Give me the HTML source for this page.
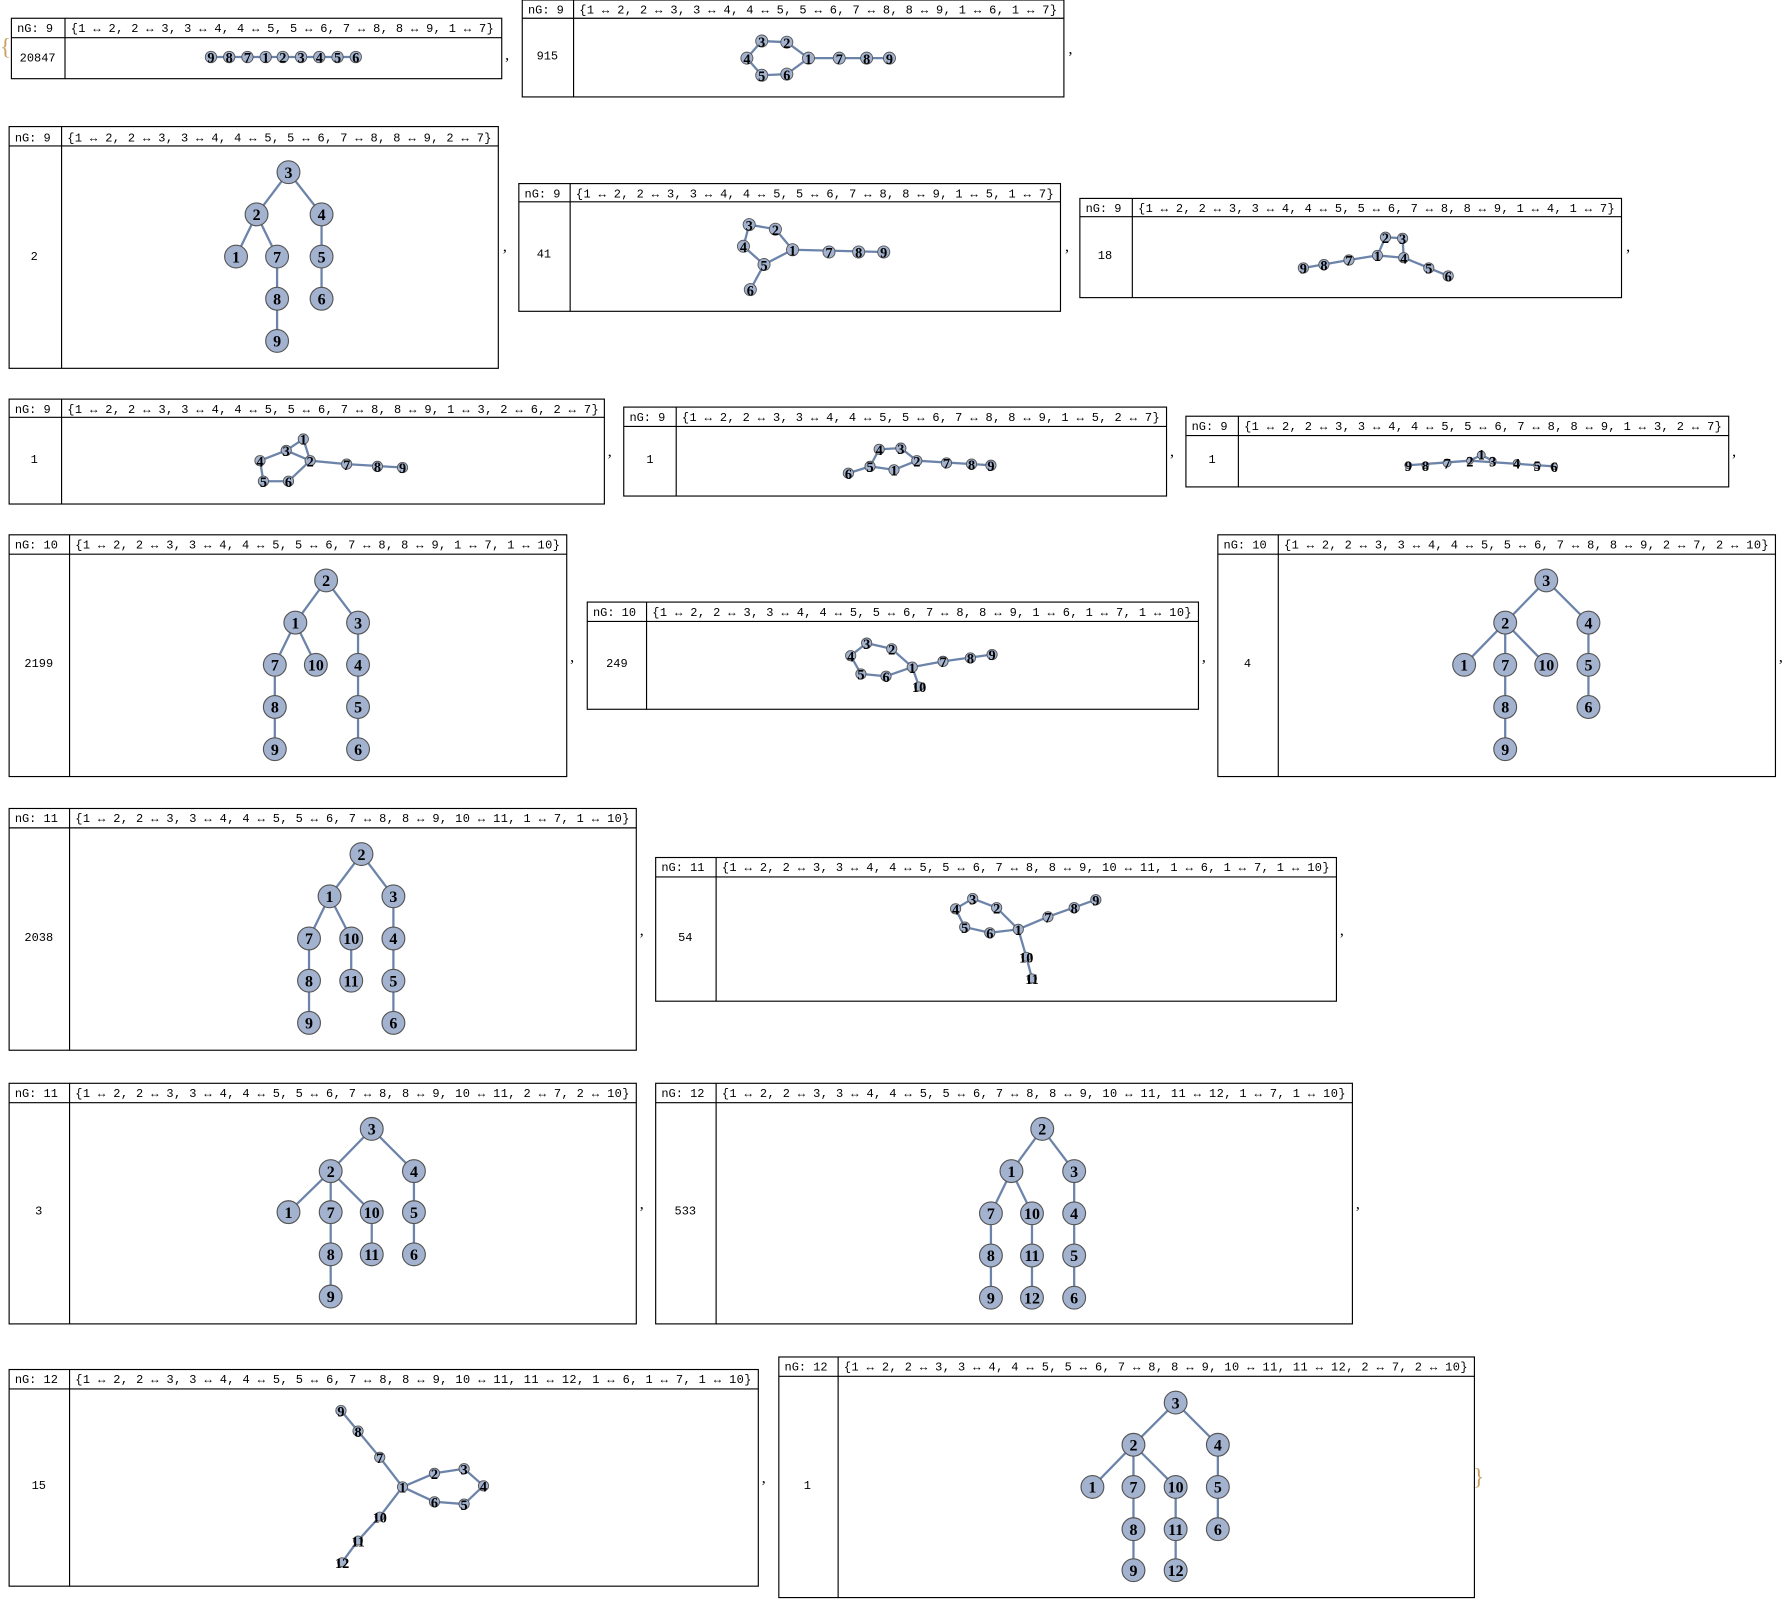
<!DOCTYPE html>
<html><head><meta charset="utf-8"><style>
html,body{margin:0;padding:0;background:#fff;}
svg{display:block}
.b{fill:none;stroke:#000;stroke-width:1}
.h{font-family:"Liberation Mono",monospace;font-size:10.5px;fill:#000}
.c{font-family:"Liberation Mono",monospace;font-size:10.5px;fill:#000;text-anchor:middle}
.e line{stroke:#6d84aa;stroke-width:2}
.N circle{fill:#a3b3cf;stroke:#555;stroke-width:1}
.N text{font-family:"Liberation Serif",serif;font-weight:bold;font-size:14px;text-anchor:middle;fill:#000}
.S circle{fill:#a3b3cf;stroke:#555;stroke-width:0.8}
.S text{font-family:"Liberation Serif",serif;font-weight:bold;font-size:12.5px;text-anchor:middle;fill:#000}
.p{font-family:"Liberation Serif",serif;font-size:14px;fill:#000}
.br{font-family:"Liberation Serif",serif;font-size:20px;fill:#c8a060}
</style></head><body>
<svg width="1788" height="1601" viewBox="0 0 1568 1404" xmlns="http://www.w3.org/2000/svg">
<text class="br" x="0" y="48">{</text>
<text class="br" x="1292" y="1302">}</text>

<!-- P1 -->
<rect class="b" x="10" y="16" width="430" height="53"/><line class="b" x1="10" y1="33" x2="440" y2="33"/><line class="b" x1="57" y1="16" x2="57" y2="69"/>
<text class="h" x="15" y="28">nG: 9</text><text class="h" x="62" y="28" textLength="371" lengthAdjust="spacing">{1 ↔ 2, 2 ↔ 3, 3 ↔ 4, 4 ↔ 5, 5 ↔ 6, 7 ↔ 8, 8 ↔ 9, 1 ↔ 7}</text>
<text class="c" x="33" y="54">20847</text>
<g class="e"><line x1="185" y1="50" x2="312" y2="50"/></g>
<g class="S"><circle cx="185" cy="50" r="5"/><text x="185" y="55">9</text><circle cx="201" cy="50" r="5"/><text x="201" y="55">8</text><circle cx="217" cy="50" r="5"/><text x="217" y="55">7</text><circle cx="233" cy="50" r="5"/><text x="233" y="55">1</text><circle cx="248" cy="50" r="5"/><text x="248" y="55">2</text><circle cx="264" cy="50" r="5"/><text x="264" y="55">3</text><circle cx="280" cy="50" r="5"/><text x="280" y="55">4</text><circle cx="296" cy="50" r="5"/><text x="296" y="55">5</text><circle cx="312" cy="50" r="5"/><text x="312" y="55">6</text></g>
<text class="p" x="443" y="52">,</text>

<!-- P2 -->
<rect class="b" x="458" y="0" width="475" height="85"/><line class="b" x1="458" y1="16" x2="933" y2="16"/><line class="b" x1="503" y1="0" x2="503" y2="85"/>
<text class="h" x="463" y="12">nG: 9</text><text class="h" x="508" y="12" textLength="419" lengthAdjust="spacing">{1 ↔ 2, 2 ↔ 3, 3 ↔ 4, 4 ↔ 5, 5 ↔ 6, 7 ↔ 8, 8 ↔ 9, 1 ↔ 6, 1 ↔ 7}</text>
<text class="c" x="480" y="52">915</text>
<g class="e"><line x1="709" y1="51" x2="690" y2="37"/><line x1="690" y1="37" x2="668" y2="36"/><line x1="668" y1="36" x2="655" y2="51"/><line x1="655" y1="51" x2="668" y2="66"/><line x1="668" y1="66" x2="690" y2="65"/><line x1="690" y1="65" x2="709" y2="51"/><line x1="709" y1="51" x2="780" y2="51"/></g>
<g class="S"><circle cx="668" cy="36" r="5.3"/><text x="668" y="41">3</text><circle cx="690" cy="37" r="5.3"/><text x="690" y="42">2</text><circle cx="655" cy="51" r="5.3"/><text x="655" y="56">4</text><circle cx="709" cy="51" r="5.3"/><text x="709" y="56">1</text><circle cx="668" cy="66" r="5.3"/><text x="668" y="71">5</text><circle cx="690" cy="65" r="5.3"/><text x="690" y="70">6</text><circle cx="736" cy="51" r="5.3"/><text x="736" y="56">7</text><circle cx="760" cy="51" r="5.3"/><text x="760" y="56">8</text><circle cx="780" cy="51" r="5.3"/><text x="780" y="56">9</text></g>
<text class="p" x="937" y="47">,</text>

<!-- P3 -->
<rect class="b" x="8" y="111" width="429" height="212"/><line class="b" x1="8" y1="128" x2="437" y2="128"/><line class="b" x1="54" y1="111" x2="54" y2="323"/>
<text class="h" x="13" y="124">nG: 9</text><text class="h" x="59" y="124" textLength="372" lengthAdjust="spacing">{1 ↔ 2, 2 ↔ 3, 3 ↔ 4, 4 ↔ 5, 5 ↔ 6, 7 ↔ 8, 8 ↔ 9, 2 ↔ 7}</text>
<text class="c" x="30" y="228">2</text>
<g class="e"><line x1="253" y1="151" x2="225" y2="188"/><line x1="253" y1="151" x2="282" y2="188"/><line x1="225" y1="188" x2="207" y2="225"/><line x1="225" y1="188" x2="243" y2="225"/><line x1="243" y1="225" x2="243" y2="299"/><line x1="282" y1="188" x2="282" y2="262"/></g>
<g class="N"><circle cx="253" cy="151" r="10"/><text x="253" y="156">3</text><circle cx="225" cy="188" r="10"/><text x="225" y="193">2</text><circle cx="282" cy="188" r="10"/><text x="282" y="193">4</text><circle cx="207" cy="225" r="10"/><text x="207" y="230">1</text><circle cx="243" cy="225" r="10"/><text x="243" y="230">7</text><circle cx="282" cy="225" r="10"/><text x="282" y="230">5</text><circle cx="243" cy="262" r="10"/><text x="243" y="267">8</text><circle cx="282" cy="262" r="10"/><text x="282" y="267">6</text><circle cx="243" cy="299" r="10"/><text x="243" y="304">9</text></g>
<text class="p" x="441" y="220">,</text>

<!-- P4 -->
<rect class="b" x="455" y="161" width="475" height="112"/><line class="b" x1="455" y1="177" x2="930" y2="177"/><line class="b" x1="500" y1="161" x2="500" y2="273"/>
<text class="h" x="460" y="173">nG: 9</text><text class="h" x="505" y="173" textLength="419" lengthAdjust="spacing">{1 ↔ 2, 2 ↔ 3, 3 ↔ 4, 4 ↔ 5, 5 ↔ 6, 7 ↔ 8, 8 ↔ 9, 1 ↔ 5, 1 ↔ 7}</text>
<text class="c" x="477" y="226">41</text>
<g class="e"><line x1="695" y1="219" x2="680" y2="201"/><line x1="680" y1="201" x2="657" y2="197"/><line x1="657" y1="197" x2="652" y2="216"/><line x1="652" y1="216" x2="670" y2="232"/><line x1="670" y1="232" x2="695" y2="219"/><line x1="670" y1="232" x2="658" y2="254"/><line x1="695" y1="219" x2="775" y2="221"/></g>
<g class="S"><circle cx="657" cy="197" r="5.3"/><text x="657" y="202">3</text><circle cx="680" cy="201" r="5.3"/><text x="680" y="206">2</text><circle cx="652" cy="216" r="5.3"/><text x="652" y="221">4</text><circle cx="670" cy="232" r="5.3"/><text x="670" y="237">5</text><circle cx="695" cy="219" r="5.3"/><text x="695" y="224">1</text><circle cx="658" cy="254" r="5.3"/><text x="658" y="259">6</text><circle cx="727" cy="221" r="5.3"/><text x="727" y="226">7</text><circle cx="753" cy="221" r="5.3"/><text x="753" y="226">8</text><circle cx="775" cy="221" r="5.3"/><text x="775" y="226">9</text></g>
<text class="p" x="934" y="220">,</text>

<!-- P5 -->
<rect class="b" x="947" y="174" width="475" height="87"/><line class="b" x1="947" y1="190" x2="1422" y2="190"/><line class="b" x1="993" y1="174" x2="993" y2="261"/>
<text class="h" x="952" y="186">nG: 9</text><text class="h" x="998" y="186" textLength="418" lengthAdjust="spacing">{1 ↔ 2, 2 ↔ 3, 3 ↔ 4, 4 ↔ 5, 5 ↔ 6, 7 ↔ 8, 8 ↔ 9, 1 ↔ 4, 1 ↔ 7}</text>
<text class="c" x="969" y="227">18</text>
<g class="e"><line x1="1208" y1="224" x2="1215" y2="208"/><line x1="1215" y1="208" x2="1230" y2="209"/><line x1="1230" y1="209" x2="1231" y2="226"/><line x1="1231" y1="226" x2="1208" y2="224"/><line x1="1208" y1="224" x2="1183" y2="228"/><line x1="1183" y1="228" x2="1143" y2="235"/><line x1="1231" y1="226" x2="1253" y2="235"/><line x1="1253" y1="235" x2="1270" y2="242"/></g>
<g class="S"><circle cx="1215" cy="208" r="4.5"/><text x="1215" y="213">2</text><circle cx="1230" cy="209" r="4.5"/><text x="1230" y="214">3</text><circle cx="1208" cy="224" r="4.5"/><text x="1208" y="229">1</text><circle cx="1231" cy="226" r="4.5"/><text x="1231" y="231">4</text><circle cx="1183" cy="228" r="4.5"/><text x="1183" y="233">7</text><circle cx="1161" cy="232" r="4.5"/><text x="1161" y="237">8</text><circle cx="1143" cy="235" r="4.5"/><text x="1143" y="240">9</text><circle cx="1253" cy="235" r="4.5"/><text x="1253" y="240">5</text><circle cx="1270" cy="242" r="4.5"/><text x="1270" y="247">6</text></g>
<text class="p" x="1426" y="220">,</text>

<!-- P6 -->
<rect class="b" x="8" y="350" width="522" height="92"/><line class="b" x1="8" y1="366" x2="530" y2="366"/><line class="b" x1="54" y1="350" x2="54" y2="442"/>
<text class="h" x="13" y="362">nG: 9</text><text class="h" x="59" y="362" textLength="466" lengthAdjust="spacing">{1 ↔ 2, 2 ↔ 3, 3 ↔ 4, 4 ↔ 5, 5 ↔ 6, 7 ↔ 8, 8 ↔ 9, 1 ↔ 3, 2 ↔ 6, 2 ↔ 7}</text>
<text class="c" x="30" y="406">1</text>
<g class="e"><line x1="266" y1="385" x2="272" y2="404"/><line x1="266" y1="385" x2="251" y2="395"/><line x1="272" y1="404" x2="251" y2="395"/><line x1="251" y1="395" x2="228" y2="404"/><line x1="228" y1="404" x2="231" y2="422"/><line x1="231" y1="422" x2="253" y2="422"/><line x1="253" y1="422" x2="272" y2="404"/><line x1="272" y1="404" x2="304" y2="407"/><line x1="304" y1="407" x2="353" y2="410"/></g>
<g class="S"><circle cx="266" cy="385" r="4.5"/><text x="266" y="390">1</text><circle cx="251" cy="395" r="4.5"/><text x="251" y="400">3</text><circle cx="272" cy="404" r="4.5"/><text x="272" y="409">2</text><circle cx="228" cy="404" r="4.5"/><text x="228" y="409">4</text><circle cx="231" cy="422" r="4.5"/><text x="231" y="427">5</text><circle cx="253" cy="422" r="4.5"/><text x="253" y="427">6</text><circle cx="304" cy="407" r="4.5"/><text x="304" y="412">7</text><circle cx="331" cy="409" r="4.5"/><text x="331" y="414">8</text><circle cx="353" cy="410" r="4.5"/><text x="353" y="415">9</text></g>
<text class="p" x="533" y="400">,</text>

<!-- P7 -->
<rect class="b" x="547" y="357" width="476" height="78"/><line class="b" x1="547" y1="374" x2="1023" y2="374"/><line class="b" x1="593" y1="357" x2="593" y2="435"/>
<text class="h" x="552" y="369">nG: 9</text><text class="h" x="598" y="369" textLength="419" lengthAdjust="spacing">{1 ↔ 2, 2 ↔ 3, 3 ↔ 4, 4 ↔ 5, 5 ↔ 6, 7 ↔ 8, 8 ↔ 9, 1 ↔ 5, 2 ↔ 7}</text>
<text class="c" x="570" y="406">1</text>
<g class="e"><line x1="784" y1="412" x2="804" y2="404"/><line x1="804" y1="404" x2="790" y2="393"/><line x1="790" y1="393" x2="771" y2="394"/><line x1="771" y1="394" x2="763" y2="409"/><line x1="763" y1="409" x2="784" y2="412"/><line x1="763" y1="409" x2="744" y2="415"/><line x1="804" y1="404" x2="869" y2="408"/></g>
<g class="S"><circle cx="771" cy="394" r="4.5"/><text x="771" y="399">4</text><circle cx="790" cy="393" r="4.5"/><text x="790" y="398">3</text><circle cx="804" cy="404" r="4.5"/><text x="804" y="409">2</text><circle cx="763" cy="409" r="4.5"/><text x="763" y="414">5</text><circle cx="784" cy="412" r="4.5"/><text x="784" y="417">1</text><circle cx="744" cy="415" r="4.5"/><text x="744" y="420">6</text><circle cx="830" cy="406" r="4.5"/><text x="830" y="411">7</text><circle cx="852" cy="407" r="4.5"/><text x="852" y="412">8</text><circle cx="869" cy="408" r="4.5"/><text x="869" y="413">9</text></g>
<text class="p" x="1026" y="400">,</text>

<!-- P8 -->
<rect class="b" x="1040" y="365" width="476" height="62"/><line class="b" x1="1040" y1="382" x2="1516" y2="382"/><line class="b" x1="1086" y1="365" x2="1086" y2="427"/>
<text class="h" x="1045" y="377">nG: 9</text><text class="h" x="1091" y="377" textLength="419" lengthAdjust="spacing">{1 ↔ 2, 2 ↔ 3, 3 ↔ 4, 4 ↔ 5, 5 ↔ 6, 7 ↔ 8, 8 ↔ 9, 1 ↔ 3, 2 ↔ 7}</text>
<text class="c" x="1063" y="406">1</text>
<g class="e"><line x1="1235" y1="408" x2="1289" y2="404"/><line x1="1289" y1="404" x2="1299" y2="399"/><line x1="1299" y1="399" x2="1309" y2="404"/><line x1="1289" y1="404" x2="1363" y2="409"/></g>
<g class="S"><circle cx="1235" cy="408" r="3"/><text x="1235" y="413">9</text><circle cx="1250" cy="408" r="3"/><text x="1250" y="413">8</text><circle cx="1269" cy="406" r="3.5"/><text x="1269" y="411">7</text><circle cx="1289" cy="404" r="3"/><text x="1289" y="409">2</text><circle cx="1299" cy="399" r="3.5"/><text x="1299" y="403">1</text><circle cx="1309" cy="404" r="3"/><text x="1309" y="409">3</text><circle cx="1330" cy="406" r="3"/><text x="1330" y="411">4</text><circle cx="1348" cy="408" r="3"/><text x="1348" y="413">5</text><circle cx="1363" cy="409" r="3"/><text x="1363" y="414">6</text></g>
<text class="p" x="1519" y="400">,</text>

<!-- P9 -->
<rect class="b" x="8" y="469" width="489" height="212"/><line class="b" x1="8" y1="486" x2="497" y2="486"/><line class="b" x1="61" y1="469" x2="61" y2="681"/>
<text class="h" x="13" y="481">nG: 10</text><text class="h" x="66" y="481" textLength="425" lengthAdjust="spacing">{1 ↔ 2, 2 ↔ 3, 3 ↔ 4, 4 ↔ 5, 5 ↔ 6, 7 ↔ 8, 8 ↔ 9, 1 ↔ 7, 1 ↔ 10}</text>
<text class="c" x="34" y="585">2199</text>
<g class="e"><line x1="286" y1="509" x2="259" y2="546"/><line x1="286" y1="509" x2="314" y2="546"/><line x1="259" y1="546" x2="241" y2="583"/><line x1="259" y1="546" x2="277" y2="583"/><line x1="241" y1="583" x2="241" y2="657"/><line x1="314" y1="546" x2="314" y2="657"/></g>
<g class="N"><circle cx="286" cy="509" r="10"/><text x="286" y="514">2</text><circle cx="259" cy="546" r="10"/><text x="259" y="551">1</text><circle cx="314" cy="546" r="10"/><text x="314" y="551">3</text><circle cx="241" cy="583" r="10"/><text x="241" y="588">7</text><circle cx="277" cy="583" r="10"/><text x="277" y="588">10</text><circle cx="314" cy="583" r="10"/><text x="314" y="588">4</text><circle cx="241" cy="620" r="10"/><text x="241" y="625">8</text><circle cx="314" cy="620" r="10"/><text x="314" y="625">5</text><circle cx="241" cy="657" r="10"/><text x="241" y="662">9</text><circle cx="314" cy="657" r="10"/><text x="314" y="662">6</text></g>
<text class="p" x="500" y="580">,</text>

<!-- P10 -->
<rect class="b" x="515" y="528" width="536" height="94"/><line class="b" x1="515" y1="545" x2="1051" y2="545"/><line class="b" x1="567" y1="528" x2="567" y2="622"/>
<text class="h" x="520" y="540">nG: 10</text><text class="h" x="572" y="540" textLength="473" lengthAdjust="spacing">{1 ↔ 2, 2 ↔ 3, 3 ↔ 4, 4 ↔ 5, 5 ↔ 6, 7 ↔ 8, 8 ↔ 9, 1 ↔ 6, 1 ↔ 7, 1 ↔ 10}</text>
<text class="c" x="541" y="585">249</text>
<g class="e"><line x1="800" y1="585" x2="782" y2="569"/><line x1="782" y1="569" x2="760" y2="564"/><line x1="760" y1="564" x2="746" y2="575"/><line x1="746" y1="575" x2="755" y2="591"/><line x1="755" y1="591" x2="777" y2="593"/><line x1="777" y1="593" x2="800" y2="585"/><line x1="800" y1="585" x2="827" y2="580"/><line x1="827" y1="580" x2="870" y2="574"/><line x1="800" y1="585" x2="806" y2="602"/></g>
<g class="S"><circle cx="760" cy="564" r="4.5"/><text x="760" y="569">3</text><circle cx="782" cy="569" r="4.5"/><text x="782" y="574">2</text><circle cx="746" cy="575" r="4.5"/><text x="746" y="580">4</text><circle cx="800" cy="585" r="4.5"/><text x="800" y="590">1</text><circle cx="755" cy="591" r="4.5"/><text x="755" y="596">5</text><circle cx="777" cy="593" r="4.5"/><text x="777" y="598">6</text><circle cx="827" cy="580" r="4.5"/><text x="827" y="585">7</text><circle cx="851" cy="577" r="4.5"/><text x="851" y="582">8</text><circle cx="870" cy="574" r="4.5"/><text x="870" y="579">9</text><circle cx="806" cy="602" r="4"/><text x="806" y="607">10</text></g>
<text class="p" x="1054" y="580">,</text>

<!-- P11 -->
<rect class="b" x="1068" y="469" width="489" height="212"/><line class="b" x1="1068" y1="486" x2="1557" y2="486"/><line class="b" x1="1121" y1="469" x2="1121" y2="681"/>
<text class="h" x="1073" y="481">nG: 10</text><text class="h" x="1126" y="481" textLength="425" lengthAdjust="spacing">{1 ↔ 2, 2 ↔ 3, 3 ↔ 4, 4 ↔ 5, 5 ↔ 6, 7 ↔ 8, 8 ↔ 9, 2 ↔ 7, 2 ↔ 10}</text>
<text class="c" x="1094" y="585">4</text>
<g class="e"><line x1="1356" y1="509" x2="1320" y2="546"/><line x1="1356" y1="509" x2="1393" y2="546"/><line x1="1320" y1="546" x2="1284" y2="583"/><line x1="1320" y1="546" x2="1356" y2="583"/><line x1="1320" y1="546" x2="1320" y2="657"/><line x1="1393" y1="546" x2="1393" y2="620"/></g>
<g class="N"><circle cx="1356" cy="509" r="10"/><text x="1356" y="514">3</text><circle cx="1320" cy="546" r="10"/><text x="1320" y="551">2</text><circle cx="1393" cy="546" r="10"/><text x="1393" y="551">4</text><circle cx="1284" cy="583" r="10"/><text x="1284" y="588">1</text><circle cx="1320" cy="583" r="10"/><text x="1320" y="588">7</text><circle cx="1356" cy="583" r="10"/><text x="1356" y="588">10</text><circle cx="1393" cy="583" r="10"/><text x="1393" y="588">5</text><circle cx="1320" cy="620" r="10"/><text x="1320" y="625">8</text><circle cx="1393" cy="620" r="10"/><text x="1393" y="625">6</text><circle cx="1320" cy="657" r="10"/><text x="1320" y="662">9</text></g>
<text class="p" x="1560" y="580">,</text>

<!-- P12 -->
<rect class="b" x="8" y="709" width="550" height="212"/><line class="b" x1="8" y1="726" x2="558" y2="726"/><line class="b" x1="61" y1="709" x2="61" y2="921"/>
<text class="h" x="13" y="721">nG: 11</text><text class="h" x="66" y="721" textLength="486" lengthAdjust="spacing">{1 ↔ 2, 2 ↔ 3, 3 ↔ 4, 4 ↔ 5, 5 ↔ 6, 7 ↔ 8, 8 ↔ 9, 10 ↔ 11, 1 ↔ 7, 1 ↔ 10}</text>
<text class="c" x="34" y="825">2038</text>
<g class="e"><line x1="317" y1="749" x2="289" y2="786"/><line x1="317" y1="749" x2="345" y2="786"/><line x1="289" y1="786" x2="271" y2="823"/><line x1="289" y1="786" x2="308" y2="823"/><line x1="271" y1="823" x2="271" y2="897"/><line x1="308" y1="823" x2="308" y2="860"/><line x1="345" y1="786" x2="345" y2="897"/></g>
<g class="N"><circle cx="317" cy="749" r="10"/><text x="317" y="754">2</text><circle cx="289" cy="786" r="10"/><text x="289" y="791">1</text><circle cx="345" cy="786" r="10"/><text x="345" y="791">3</text><circle cx="271" cy="823" r="10"/><text x="271" y="828">7</text><circle cx="308" cy="823" r="10"/><text x="308" y="828">10</text><circle cx="345" cy="823" r="10"/><text x="345" y="828">4</text><circle cx="271" cy="860" r="10"/><text x="271" y="865">8</text><circle cx="308" cy="860" r="10"/><text x="308" y="865">11</text><circle cx="345" cy="860" r="10"/><text x="345" y="865">5</text><circle cx="271" cy="897" r="10"/><text x="271" y="902">9</text><circle cx="345" cy="897" r="10"/><text x="345" y="902">6</text></g>
<text class="p" x="561" y="820">,</text>

<!-- P13 -->
<rect class="b" x="575" y="752" width="597" height="126"/><line class="b" x1="575" y1="769" x2="1172" y2="769"/><line class="b" x1="628" y1="752" x2="628" y2="878"/>
<text class="h" x="580" y="764">nG: 11</text><text class="h" x="633" y="764" textLength="533" lengthAdjust="spacing">{1 ↔ 2, 2 ↔ 3, 3 ↔ 4, 4 ↔ 5, 5 ↔ 6, 7 ↔ 8, 8 ↔ 9, 10 ↔ 11, 1 ↔ 6, 1 ↔ 7, 1 ↔ 10}</text>
<text class="c" x="601" y="825">54</text>
<g class="e"><line x1="893" y1="815" x2="874" y2="796"/><line x1="874" y1="796" x2="853" y2="788"/><line x1="853" y1="788" x2="838" y2="797"/><line x1="838" y1="797" x2="846" y2="813"/><line x1="846" y1="813" x2="868" y2="818"/><line x1="868" y1="818" x2="893" y2="815"/><line x1="893" y1="815" x2="919" y2="804"/><line x1="919" y1="804" x2="961" y2="789"/><line x1="893" y1="815" x2="900" y2="839"/><line x1="900" y1="839" x2="905" y2="858"/></g>
<g class="S"><circle cx="853" cy="788" r="4.5"/><text x="853" y="793">3</text><circle cx="874" cy="796" r="4.5"/><text x="874" y="801">2</text><circle cx="838" cy="797" r="4.5"/><text x="838" y="802">4</text><circle cx="846" cy="813" r="4.5"/><text x="846" y="818">5</text><circle cx="868" cy="818" r="4.5"/><text x="868" y="823">6</text><circle cx="893" cy="815" r="4.5"/><text x="893" y="820">1</text><circle cx="919" cy="804" r="4.5"/><text x="919" y="809">7</text><circle cx="942" cy="796" r="4.5"/><text x="942" y="801">8</text><circle cx="961" cy="789" r="4.5"/><text x="961" y="794">9</text><circle cx="900" cy="839" r="4"/><text x="900" y="844">10</text><circle cx="905" cy="858" r="4"/><text x="905" y="863">11</text></g>
<text class="p" x="1175" y="820">,</text>

<!-- P14 -->
<rect class="b" x="8" y="950" width="550" height="211"/><line class="b" x1="8" y1="967" x2="558" y2="967"/><line class="b" x1="61" y1="950" x2="61" y2="1161"/>
<text class="h" x="13" y="962">nG: 11</text><text class="h" x="66" y="962" textLength="486" lengthAdjust="spacing">{1 ↔ 2, 2 ↔ 3, 3 ↔ 4, 4 ↔ 5, 5 ↔ 6, 7 ↔ 8, 8 ↔ 9, 10 ↔ 11, 2 ↔ 7, 2 ↔ 10}</text>
<text class="c" x="34" y="1065">3</text>
<g class="e"><line x1="326" y1="990" x2="290" y2="1027"/><line x1="326" y1="990" x2="363" y2="1027"/><line x1="290" y1="1027" x2="253" y2="1063"/><line x1="290" y1="1027" x2="326" y2="1063"/><line x1="290" y1="1027" x2="290" y2="1137"/><line x1="326" y1="1063" x2="326" y2="1100"/><line x1="363" y1="1027" x2="363" y2="1100"/></g>
<g class="N"><circle cx="326" cy="990" r="10"/><text x="326" y="995">3</text><circle cx="290" cy="1027" r="10"/><text x="290" y="1032">2</text><circle cx="363" cy="1027" r="10"/><text x="363" y="1032">4</text><circle cx="253" cy="1063" r="10"/><text x="253" y="1068">1</text><circle cx="290" cy="1063" r="10"/><text x="290" y="1068">7</text><circle cx="326" cy="1063" r="10"/><text x="326" y="1068">10</text><circle cx="363" cy="1063" r="10"/><text x="363" y="1068">5</text><circle cx="290" cy="1100" r="10"/><text x="290" y="1105">8</text><circle cx="326" cy="1100" r="10"/><text x="326" y="1105">11</text><circle cx="363" cy="1100" r="10"/><text x="363" y="1105">6</text><circle cx="290" cy="1137" r="10"/><text x="290" y="1142">9</text></g>
<text class="p" x="561" y="1060">,</text>

<!-- P15 -->
<rect class="b" x="575" y="950" width="611" height="211"/><line class="b" x1="575" y1="967" x2="1186" y2="967"/><line class="b" x1="628" y1="950" x2="628" y2="1161"/>
<text class="h" x="580" y="962">nG: 12</text><text class="h" x="633" y="962" textLength="547" lengthAdjust="spacing">{1 ↔ 2, 2 ↔ 3, 3 ↔ 4, 4 ↔ 5, 5 ↔ 6, 7 ↔ 8, 8 ↔ 9, 10 ↔ 11, 11 ↔ 12, 1 ↔ 7, 1 ↔ 10}</text>
<text class="c" x="601" y="1065">533</text>
<g class="e"><line x1="914" y1="990" x2="887" y2="1027"/><line x1="914" y1="990" x2="942" y2="1027"/><line x1="887" y1="1027" x2="869" y2="1064"/><line x1="887" y1="1027" x2="905" y2="1064"/><line x1="869" y1="1064" x2="869" y2="1138"/><line x1="905" y1="1064" x2="905" y2="1138"/><line x1="942" y1="1027" x2="942" y2="1138"/></g>
<g class="N"><circle cx="914" cy="990" r="10"/><text x="914" y="995">2</text><circle cx="887" cy="1027" r="10"/><text x="887" y="1032">1</text><circle cx="942" cy="1027" r="10"/><text x="942" y="1032">3</text><circle cx="869" cy="1064" r="10"/><text x="869" y="1069">7</text><circle cx="905" cy="1064" r="10"/><text x="905" y="1069">10</text><circle cx="942" cy="1064" r="10"/><text x="942" y="1069">4</text><circle cx="869" cy="1101" r="10"/><text x="869" y="1106">8</text><circle cx="905" cy="1101" r="10"/><text x="905" y="1106">11</text><circle cx="942" cy="1101" r="10"/><text x="942" y="1106">5</text><circle cx="869" cy="1138" r="10"/><text x="869" y="1143">9</text><circle cx="905" cy="1138" r="10"/><text x="905" y="1143">12</text><circle cx="942" cy="1138" r="10"/><text x="942" y="1143">6</text></g>
<text class="p" x="1189" y="1060">,</text>

<!-- P16 -->
<rect class="b" x="8" y="1201" width="657" height="190"/><line class="b" x1="8" y1="1218" x2="665" y2="1218"/><line class="b" x1="61" y1="1201" x2="61" y2="1391"/>
<text class="h" x="13" y="1213">nG: 12</text><text class="h" x="66" y="1213" textLength="593" lengthAdjust="spacing">{1 ↔ 2, 2 ↔ 3, 3 ↔ 4, 4 ↔ 5, 5 ↔ 6, 7 ↔ 8, 8 ↔ 9, 10 ↔ 11, 11 ↔ 12, 1 ↔ 6, 1 ↔ 7, 1 ↔ 10}</text>
<text class="c" x="34" y="1306">15</text>
<g class="e"><line x1="353" y1="1304" x2="381" y2="1292"/><line x1="381" y1="1292" x2="407" y2="1288"/><line x1="407" y1="1288" x2="424" y2="1303"/><line x1="424" y1="1303" x2="407" y2="1319"/><line x1="407" y1="1319" x2="381" y2="1317"/><line x1="381" y1="1317" x2="353" y2="1304"/><line x1="353" y1="1304" x2="333" y2="1278"/><line x1="333" y1="1278" x2="314" y2="1255"/><line x1="314" y1="1255" x2="299" y2="1237"/><line x1="353" y1="1304" x2="333" y2="1330"/><line x1="333" y1="1330" x2="314" y2="1351"/><line x1="314" y1="1351" x2="300" y2="1370"/></g>
<g class="S"><circle cx="299" cy="1237" r="4.5"/><text x="299" y="1242">9</text><circle cx="314" cy="1255" r="4.5"/><text x="314" y="1260">8</text><circle cx="333" cy="1278" r="4.5"/><text x="333" y="1283">7</text><circle cx="353" cy="1304" r="4.5"/><text x="353" y="1309">1</text><circle cx="381" cy="1292" r="4.5"/><text x="381" y="1297">2</text><circle cx="407" cy="1288" r="4.5"/><text x="407" y="1293">3</text><circle cx="424" cy="1303" r="4.5"/><text x="424" y="1308">4</text><circle cx="407" cy="1319" r="4.5"/><text x="407" y="1324">5</text><circle cx="381" cy="1317" r="4.5"/><text x="381" y="1322">6</text><circle cx="333" cy="1330" r="4"/><text x="333" y="1335">10</text><circle cx="314" cy="1351" r="4"/><text x="314" y="1356">11</text><circle cx="300" cy="1370" r="4"/><text x="300" y="1375">12</text></g>
<text class="p" x="668" y="1300">,</text>

<!-- P17 -->
<rect class="b" x="683" y="1190" width="610" height="211"/><line class="b" x1="683" y1="1207" x2="1293" y2="1207"/><line class="b" x1="735" y1="1190" x2="735" y2="1401"/>
<text class="h" x="688" y="1202">nG: 12</text><text class="h" x="740" y="1202" textLength="547" lengthAdjust="spacing">{1 ↔ 2, 2 ↔ 3, 3 ↔ 4, 4 ↔ 5, 5 ↔ 6, 7 ↔ 8, 8 ↔ 9, 10 ↔ 11, 11 ↔ 12, 2 ↔ 7, 2 ↔ 10}</text>
<text class="c" x="708" y="1306">1</text>
<g class="e"><line x1="1031" y1="1230" x2="994" y2="1267"/><line x1="1031" y1="1230" x2="1068" y2="1267"/><line x1="994" y1="1267" x2="958" y2="1304"/><line x1="994" y1="1267" x2="1031" y2="1304"/><line x1="994" y1="1267" x2="994" y2="1377"/><line x1="1031" y1="1304" x2="1031" y2="1377"/><line x1="1068" y1="1267" x2="1068" y2="1341"/></g>
<g class="N"><circle cx="1031" cy="1230" r="10"/><text x="1031" y="1235">3</text><circle cx="994" cy="1267" r="10"/><text x="994" y="1272">2</text><circle cx="1068" cy="1267" r="10"/><text x="1068" y="1272">4</text><circle cx="958" cy="1304" r="10"/><text x="958" y="1309">1</text><circle cx="994" cy="1304" r="10"/><text x="994" y="1309">7</text><circle cx="1031" cy="1304" r="10"/><text x="1031" y="1309">10</text><circle cx="1068" cy="1304" r="10"/><text x="1068" y="1309">5</text><circle cx="994" cy="1341" r="10"/><text x="994" y="1346">8</text><circle cx="1031" cy="1341" r="10"/><text x="1031" y="1346">11</text><circle cx="1068" cy="1341" r="10"/><text x="1068" y="1346">6</text><circle cx="994" cy="1377" r="10"/><text x="994" y="1382">9</text><circle cx="1031" cy="1377" r="10"/><text x="1031" y="1382">12</text></g>
</svg>
</body></html>
